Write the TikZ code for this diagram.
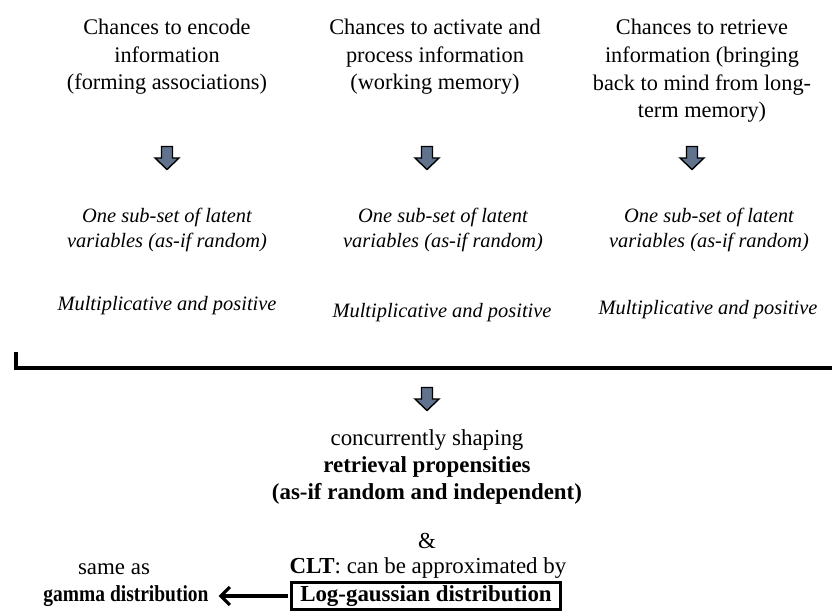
\documentclass[tikz,border=0pt]{standalone}
\usepackage{fontspec}
\setmainfont{Liberation Serif}
\usetikzlibrary{arrows.meta}
\definecolor{arrowFill}{RGB}{96,114,140}

\begin{document}
\begin{tikzpicture}[x=1bp, y=-1bp,
    chanceStyle/.style={align=center, inner sep=0, font=\fontsize{22.4}{27.7}\selectfont},
    latentStyle/.style={align=center, inner sep=0, font=\fontsize{20.5}{26}\selectfont\itshape},
    lowStyle/.style={align=center, inner sep=0, font=\fontsize{23}{27.5}\selectfont},
    blockArrow/.pic={\draw[line width=1.4, fill=arrowFill, line join=miter]
        (-5.5,-11.5) -- (5.5,-11.5) -- (5.5,0) -- (12,0) -- (0,11.5) -- (-12,0) -- (-5.5,0) -- cycle;}]
    \useasboundingbox (0,0) rectangle (832,612);

    % three sources
    \node[chanceStyle] (encode)   at (167, 57) {Chances to encode\\information\\(forming associations)};
    \node[chanceStyle] (activate) at (435, 57) {Chances to activate and\\process information\\(working memory)};
    \node[chanceStyle] (retrieve) at (702, 71) {Chances to retrieve\\information (bringing\\back to mind from long-\\term memory)};

    \pic (encode_A)   at (167, 158) {blockArrow};
    \pic (activate_A) at (427, 158) {blockArrow};
    \pic (retrieve_A) at (692, 158) {blockArrow};

    \node[latentStyle] (encode_L)   at (167, 230) {One sub-set of latent\\variables (as-if random)};
    \node[latentStyle] (activate_L) at (443, 230) {One sub-set of latent\\variables (as-if random)};
    \node[latentStyle] (retrieve_L) at (709, 230) {One sub-set of latent\\variables (as-if random)};

    \node[latentStyle] (encode_M)   at (167, 306) {Multiplicative and positive};
    \node[latentStyle] (activate_M) at (442, 313) {Multiplicative and positive};
    \node[latentStyle] (retrieve_M) at (708, 310) {Multiplicative and positive};

    % bracket
    \draw[line width=4] (16, 352) |- (832, 368);

    \pic (join_A) at (427, 399) {blockArrow};

    % result
    \node[lowStyle] (shaping) at (427, 467) {concurrently shaping\\\textbf{retrieval propensities}\\\textbf{(as-if random and independent)}};
    \node[lowStyle] (amp) at (427, 541) {\&};
    \node[lowStyle] (clt) at (428, 568) {\textbf{CLT}: can be approximated by};
    \node[lowStyle, draw, line width=3, inner xsep=9, inner ysep=0, minimum height=28] (logbox) at (426, 596) {\textbf{Log-gaussian distribution}};

    \node[lowStyle] (sameas) at (114, 569) {same as};
    \node[lowStyle] (gamma) at (126, 596) {\scalebox{0.85}[1]{\textbf{gamma distribution}}};

    \draw[line width=3.2, -{Straight Barb[length=9, width=18]}] ([xshift=-2]logbox.west) -- ([xshift=10]gamma.east);
\end{tikzpicture}
\end{document}
